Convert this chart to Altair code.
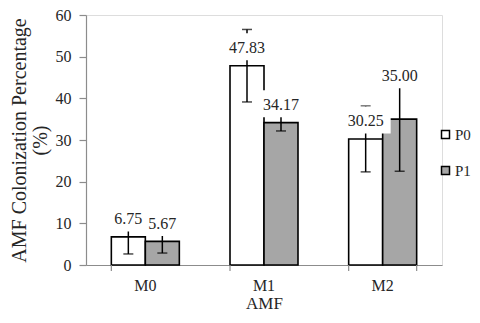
import altair as alt
import pandas as pd

# ---- data ----
categories = ["M0", "M1", "M2"]
groups = ["P0", "P1"]
p0_values = [6.75, 47.83, 30.25]
p1_values = [5.67, 34.17, 35.00]
p0_errors = [4.1, 8.7, 7.9]
p1_errors = [2.8, 2.0, 12.5]

# label placement (styling): labels sit above the bar end, one was moved up
label_lift = 4.2
label_nudge = {("M2", "P1"): 6.1}

rows = []
for i, c in enumerate(categories):
    for g, vals, errs in (("P0", p0_values, p0_errors), ("P1", p1_values, p1_errors)):
        v, e = vals[i], errs[i]
        rows.append({
            "AMF": c, "P": g, "value": v,
            "lower": v - e, "upper": v + e,
            "label_y": v + label_lift + label_nudge.get((c, g), 0.0),
            "label": f"{v:.2f}",
        })
df = pd.DataFrame(rows)
edges = pd.DataFrame({"AMF": categories})

W, H = 356, 250
FONT = "Liberation Serif"
TXT = "#262626"
AX = "#8c8c8c"

xscale = alt.Scale(domain=categories, paddingInner=0.427, paddingOuter=0.2135)
yscale = alt.Scale(domain=[0, 60], nice=False)
xoff = alt.XOffset("P:N", scale=alt.Scale(domain=groups, paddingInner=0, paddingOuter=0))

base = alt.Chart(df)

bars = base.mark_bar(stroke="black", strokeWidth=1.6).encode(
    x=alt.X("AMF:N", scale=xscale,
            axis=alt.Axis(title="AMF", labelAngle=0, ticks=False, labelPadding=12,
                          domainColor=AX, domainWidth=1.2, labelFont=FONT, labelFontSize=16,
                          labelColor=TXT, titleFont=FONT, titleFontSize=17,
                          titleFontWeight="normal", titleColor=TXT, titlePadding=2)),
    xOffset=xoff,
    y=alt.Y("value:Q", scale=yscale,
            axis=alt.Axis(title=["AMF Colonization Percentage", "(%)"],
                          values=[0, 10, 20, 30, 40, 50, 60], grid=False,
                          domainColor=AX, domainWidth=1.2, tickColor=AX, tickSize=7,
                          tickWidth=1.2, labelPadding=8, labelFont=FONT, labelFontSize=16,
                          labelColor=TXT, titleFont=FONT, titleFontSize=20,
                          titleFontWeight="normal", titleColor=TXT, titlePadding=5,
                          titleLineHeight=21)),
    color=alt.Color("P:N", scale=alt.Scale(domain=groups, range=["white", "#a6a6a6"]),
                    legend=alt.Legend(title=None, orient="none", legendX=352, legendY=112,
                                      symbolType="square", symbolSize=64,
                                      symbolStrokeColor="black", symbolStrokeWidth=1.5,
                                      labelFont=FONT, labelFontSize=15, labelColor=TXT,
                                      labelOffset=2, rowPadding=20, padding=0)),
)

err_line = base.mark_rule(color="black", strokeWidth=1.5).encode(
    x=alt.X("AMF:N"), xOffset=xoff, y="lower:Q", y2="upper:Q")
cap_lo = base.mark_tick(color="black", size=10, thickness=1.5).encode(
    x=alt.X("AMF:N"), xOffset=xoff, y="lower:Q")
cap_hi = base.mark_tick(color="black", size=10, thickness=1.5).encode(
    x=alt.X("AMF:N"), xOffset=xoff, y="upper:Q")

label_box = base.mark_point(shape="M-1,-0.6H1V0.48H-1Z", size=2500, filled=True,
                            fill="white", opacity=1, strokeWidth=0).encode(
    x=alt.X("AMF:N"), xOffset=xoff, y="label_y:Q")
labels = base.mark_text(font=FONT, fontSize=16, color=TXT, baseline="middle").encode(
    x=alt.X("AMF:N"), xOffset=xoff, y="label_y:Q", text="label:N")

ticks0 = alt.Chart(edges).mark_rule(color=AX, strokeWidth=1.2).encode(
    x=alt.X("AMF:N", bandPosition=0), y=alt.value(H), y2=alt.value(H + 6))
ticks1 = alt.Chart(edges).transform_filter("datum.AMF == 'M2'").mark_rule(
    color=AX, strokeWidth=1.2).encode(
    x=alt.X("AMF:N", bandPosition=1), y=alt.value(H), y2=alt.value(H + 6))

chart = alt.layer(bars, err_line, cap_lo, cap_hi, label_box, labels, ticks0, ticks1).properties(
    width=W, height=H,
    autosize=alt.AutoSizeParams(type="none"),
    padding={"left": 78, "top": 7, "right": 30, "bottom": 48},
).configure_view(stroke=None).configure(background="white")

chart.save("out.html", embed_options={"renderer": "svg", "actions": False})
